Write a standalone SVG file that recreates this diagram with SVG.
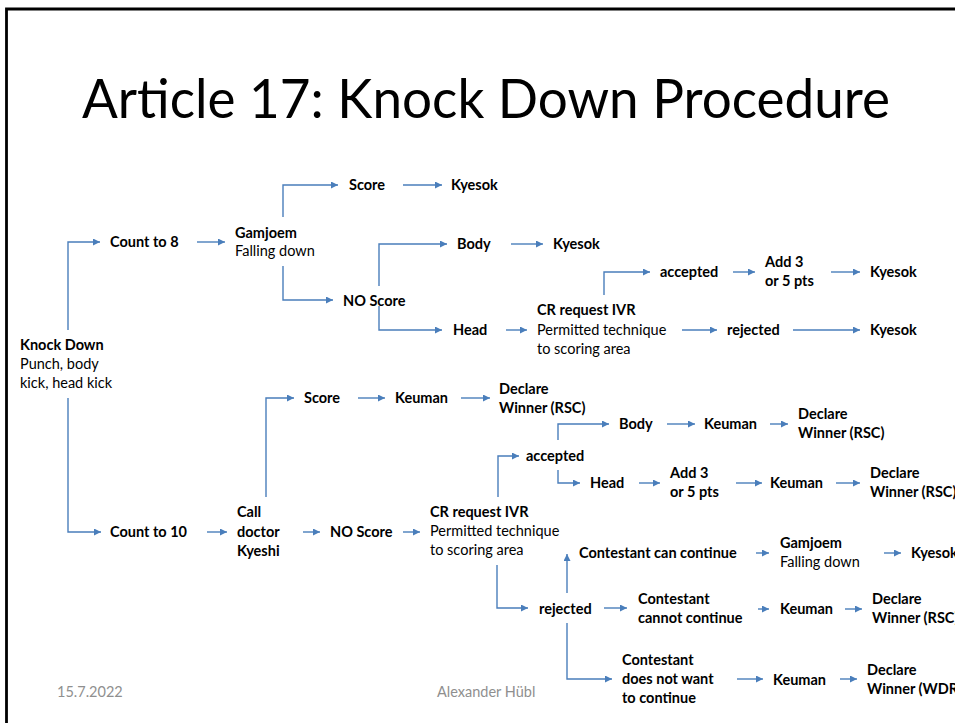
<svg xmlns="http://www.w3.org/2000/svg" width="955" height="723" viewBox="0 0 955 723">
<style>
text{font-family:Lato,"Open Sans","Liberation Sans",sans-serif;font-size:14.5px;fill:#000}
.b{font-weight:bold}
.t{font-size:55px;font-weight:normal}
.f{fill:#8f8f8f;font-size:14.5px}
.c path{fill:none;stroke:#4a7ebb;stroke-width:1.4;marker-end:url(#ah)}
</style>
<defs>
<marker id="ah" viewBox="0 0 10 10" refX="10" refY="5" markerWidth="8" markerHeight="7" markerUnits="userSpaceOnUse" orient="auto">
<path d="M0,0 L10,5 L0,10 z" fill="#4a7ebb"/>
</marker>
</defs>
<rect width="955" height="723" fill="#fff"/>
<path d="M6.5,723 V9 H955" fill="none" stroke="#000" stroke-width="2.8"/>
<text class="t" x="82" y="118" textLength="808" lengthAdjust="spacingAndGlyphs">Article 17: Knock Down Procedure</text>

<g class="c">
<path d="M68,330 V242 H100"/>
<path d="M197,242 H225"/>
<path d="M283,217 V185 H338"/>
<path d="M283,266 V300 H333"/>
<path d="M403,185 H442"/>
<path d="M379,286 V244 H447"/>
<path d="M511,244 H543"/>
<path d="M379,306 V330 H442"/>
<path d="M506,330 H527"/>
<path d="M604,295 V272 H650"/>
<path d="M733,272 H755"/>
<path d="M831,272 H860"/>
<path d="M682,330 H717"/>
<path d="M793,330 H860"/>
<path d="M68,398 V532 H101"/>
<path d="M207,532 H227"/>
<path d="M266,497 V398 H294"/>
<path d="M303,532 H320"/>
<path d="M358,398 H385"/>
<path d="M461,398 H490"/>
<path d="M403,532 H420"/>
<path d="M498,497 V456 H519"/>
<path d="M558,440 V424 H609"/>
<path d="M558,470 V483 H580"/>
<path d="M667,424 H695"/>
<path d="M770,424 H788"/>
<path d="M639,483 H660"/>
<path d="M736,483 H762"/>
<path d="M836,483 H860"/>
<path d="M497,565 V608 H528"/>
<path d="M567,593 V554"/>
<path d="M567,623 V679 H612"/>
<path d="M604,608 H627"/>
<path d="M756,553 H769"/>
<path d="M884,553 H901"/>
<path d="M758,609 H769"/>
<path d="M845,609 H862"/>
<path d="M737,679 H763"/>
<path d="M840,679 H857"/>
</g>

<g id="knockdown"><text class="b" x="20" y="350">Knock Down</text><text x="20" y="369">Punch, body</text><text x="20" y="388">kick, head kick</text></g>
<g id="count8"><text class="b" x="110" y="247">Count to 8</text></g>
<g id="gamjoem1"><text class="b" x="235" y="238">Gamjoem</text><text x="235" y="256">Falling down</text></g>
<g id="score1"><text class="b" x="349" y="190">Score</text></g>
<g id="kyesok1"><text class="b" x="451" y="190">Kyesok</text></g>
<g id="body1"><text class="b" x="457" y="249">Body</text></g>
<g id="kyesok2"><text class="b" x="553" y="249">Kyesok</text></g>
<g id="noscore1"><text class="b" x="343" y="306">NO Score</text></g>
<g id="head1"><text class="b" x="453" y="335">Head</text></g>
<g id="cr1"><text class="b" x="537" y="315">CR request IVR</text><text x="537" y="335">Permitted technique</text><text x="537" y="354">to scoring area</text></g>
<g id="accepted1"><text class="b" x="660" y="277">accepted</text></g>
<g id="add1"><text class="b" x="765" y="267">Add 3</text><text class="b" x="765" y="286">or 5 pts</text></g>
<g id="kyesok3"><text class="b" x="870" y="277">Kyesok</text></g>
<g id="rejected1"><text class="b" x="727" y="335">rejected</text></g>
<g id="kyesok4"><text class="b" x="870" y="335">Kyesok</text></g>

<g id="count10"><text class="b" x="110" y="537">Count to 10</text></g>
<g id="calldoctor"><text class="b" x="237" y="517">Call</text><text class="b" x="237" y="537">doctor</text><text class="b" x="237" y="556">Kyeshi</text></g>
<g id="score2"><text class="b" x="304" y="403">Score</text></g>
<g id="keuman1"><text class="b" x="395" y="403">Keuman</text></g>
<g id="declare1"><text class="b" x="499" y="394">Declare</text><text class="b" x="499" y="413">Winner (RSC)</text></g>
<g id="noscore2"><text class="b" x="330" y="537">NO Score</text></g>
<g id="cr2"><text class="b" x="430" y="517">CR request IVR</text><text x="430" y="536">Permitted technique</text><text x="430" y="555">to scoring area</text></g>
<g id="accepted2"><text class="b" x="526" y="461">accepted</text></g>
<g id="body2"><text class="b" x="619" y="429">Body</text></g>
<g id="keuman2"><text class="b" x="704" y="429">Keuman</text></g>
<g id="declare2"><text class="b" x="798" y="419">Declare</text><text class="b" x="798" y="438">Winner (RSC)</text></g>
<g id="head2"><text class="b" x="590" y="488">Head</text></g>
<g id="add2"><text class="b" x="670" y="478">Add 3</text><text class="b" x="670" y="497">or 5 pts</text></g>
<g id="keuman3"><text class="b" x="770" y="488">Keuman</text></g>
<g id="declare3"><text class="b" x="870" y="478">Declare</text><text class="b" x="870" y="497">Winner (RSC)</text></g>
<g id="canContinue"><text class="b" x="579" y="558">Contestant can continue</text></g>
<g id="gamjoem2"><text class="b" x="780" y="548">Gamjoem</text><text x="780" y="567">Falling down</text></g>
<g id="kyesok5"><text class="b" x="911" y="558">Kyesok</text></g>
<g id="rejected2"><text class="b" x="539" y="614">rejected</text></g>
<g id="cannotContinue"><text class="b" x="638" y="604">Contestant</text><text class="b" x="638" y="623">cannot continue</text></g>
<g id="keuman4"><text class="b" x="780" y="614">Keuman</text></g>
<g id="declare4"><text class="b" x="872" y="604">Declare</text><text class="b" x="872" y="623">Winner (RSC)</text></g>
<g id="notWant"><text class="b" x="622" y="665">Contestant</text><text class="b" x="622" y="684">does not want</text><text class="b" x="622" y="703">to continue</text></g>
<g id="keuman5"><text class="b" x="773" y="685">Keuman</text></g>
<g id="declare5"><text class="b" x="867" y="675">Declare</text><text class="b" x="867" y="694">Winner (WDR)</text></g>

<text class="f" x="57" y="697">15.7.2022</text>
<text class="f" x="437" y="697">Alexander Hübl</text>
</svg>
